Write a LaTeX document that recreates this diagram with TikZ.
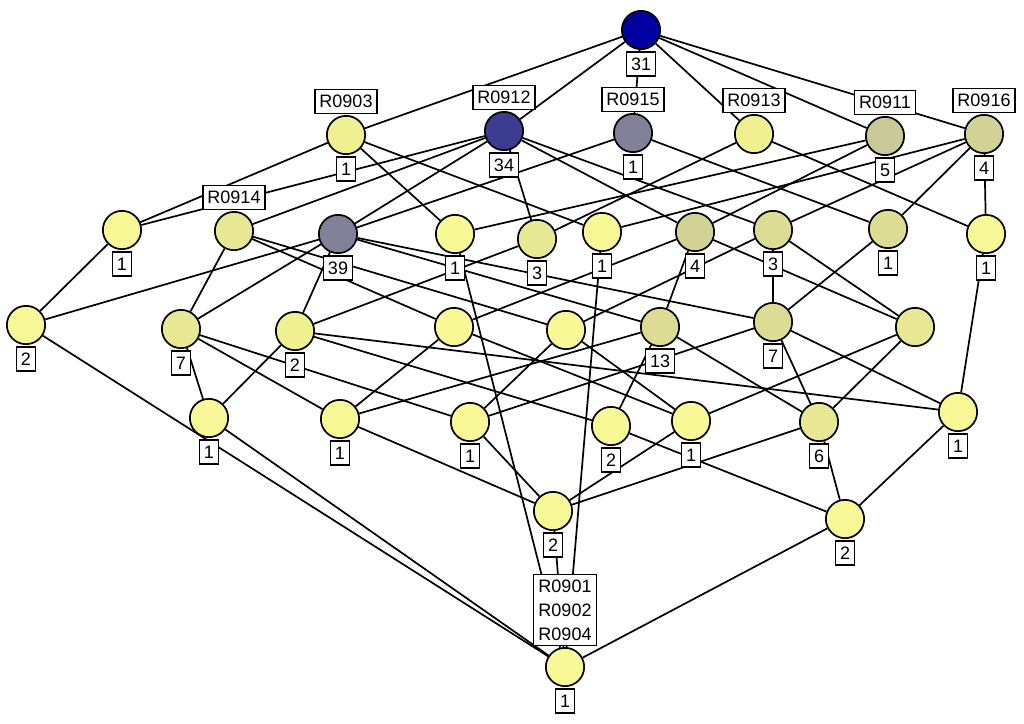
\documentclass[tikz,border=0pt]{standalone}
\usepackage{fontspec}
\setmainfont{Liberation Sans}
\usetikzlibrary{backgrounds}
\definecolor{cT}{RGB}{0,0,158}
\definecolor{cB}{RGB}{60,60,145}
\definecolor{cGr}{RGB}{128,128,152}
\definecolor{cY}{RGB}{248,248,150}
\definecolor{cYa}{RGB}{240,240,145}
\definecolor{cYb}{RGB}{232,232,148}
\definecolor{cKa}{RGB}{220,220,148}
\definecolor{cKb}{RGB}{210,210,150}
\definecolor{cKc}{RGB}{200,200,152}
\begin{document}
\begin{tikzpicture}[x=1pt,y=-1pt,
  cnode/.style={circle,draw=black,line width=1.7pt,minimum size=38.3pt,inner sep=0pt},
  lab/.style={draw=black,fill=white,line width=1.5pt,font=\fontsize{18}{20}\selectfont,
    inner xsep=4.5pt,inner ysep=5.5pt,text height=13pt,text depth=0pt},
  labm/.style={draw=black,fill=white,line width=1.5pt,font=\fontsize{18}{24}\selectfont,
    inner xsep=5pt,inner ysep=5pt,align=center},
  edge/.style={draw=black,line width=1.7pt}]
\useasboundingbox (0,0) rectangle (1024,723);
% top
\node[cnode,fill=cT] (T) at (641,30) {};
% row 1
\node[cnode,fill=cYa] (A) at (346,135) {};
\node[cnode,fill=cB] (B) at (504,131) {};
\node[cnode,fill=cGr] (C) at (633,133) {};
\node[cnode,fill=cYa] (D) at (754,134) {};
\node[cnode,fill=cKc] (E) at (885,136) {};
\node[cnode,fill=cKb] (F) at (984,134) {};
% row 2
\node[cnode,fill=cY] (G) at (122,230) {};
\node[cnode,fill=cYb] (H) at (234,231) {};
\node[cnode,fill=cGr] (I) at (338,234) {};
\node[cnode,fill=cY] (J) at (455,234) {};
\node[cnode,fill=cYb] (K) at (537,239) {};
\node[cnode,fill=cY] (L) at (602,232) {};
\node[cnode,fill=cKb] (M) at (695,232) {};
\node[cnode,fill=cKa] (N) at (773,230) {};
\node[cnode,fill=cKa] (O) at (888,229) {};
\node[cnode,fill=cY] (P) at (986,234) {};
% row 3
\node[cnode,fill=cY] (Q) at (26,325) {};
\node[cnode,fill=cYb] (R) at (181,329) {};
\node[cnode,fill=cYa] (S) at (295,331) {};
\node[cnode,fill=cY] (U) at (454,327) {};
\node[cnode,fill=cY] (V) at (566,330) {};
\node[cnode,fill=cKa] (W) at (660,327) {};
\node[cnode,fill=cKa] (X) at (773,322) {};
\node[cnode,fill=cYb] (Y) at (915,327) {};
% row 4
\node[cnode,fill=cY] (Z1) at (209,418) {};
\node[cnode,fill=cY] (Z2) at (340,419) {};
\node[cnode,fill=cY] (Z3) at (470,422) {};
\node[cnode,fill=cY] (Z4) at (611,426) {};
\node[cnode,fill=cY] (Z5) at (691,421) {};
\node[cnode,fill=cYb] (Z6) at (819,422) {};
\node[cnode,fill=cY] (Z7) at (958,412) {};
% row 5
\node[cnode,fill=cY] (AA) at (553,511) {};
\node[cnode,fill=cY] (BB) at (845,519) {};
\node[cnode,fill=cY] (Bot) at (565,667) {};
% edges
\begin{scope}[on background layer]
\fill[white] (0,0) rectangle (1024,723);
\foreach \u/\v in {T/A,T/B,T/C,T/D,T/E,T/F,
  A/G,A/J,A/L, B/G,B/H,B/I,B/K,B/M,B/N, C/I,C/O, D/K,D/P, E/J,E/M, F/L,F/N,F/O,F/P,
  G/Q, H/R,H/U,H/V, I/Q,I/R,I/S,I/W,I/X, J/Bot, K/S, L/Bot, M/U,M/W,M/Y, N/V,N/X,N/Y, O/X, P/Z7,
  Q/Bot, R/Z1,R/Z2,R/Z3, S/Z1,S/Z4,S/Z7, U/Z2,U/Z5, V/Z3,V/Z5, W/Z2,W/Z4,W/Z6, X/Z3,X/Z6,X/Z7, Y/Z5,Y/Z6,
  Z1/Bot, Z2/AA, Z3/AA, Z4/BB, Z5/AA, Z6/AA, Z6/BB, Z7/BB, AA/Bot, BB/Bot}
  \draw[edge] (\u) -- (\v);
\end{scope}
% attribute labels
\node[lab,anchor=south] (Aa) at ([yshift=1pt]A.north) {R0903};
\node[lab,anchor=south] (Ba) at ([yshift=1pt]B.north) {R0912};
\node[lab,anchor=south] (Ca) at ([yshift=1pt]C.north) {R0915};
\node[lab,anchor=south] (Da) at ([yshift=1pt]D.north) {R0913};
\node[lab,anchor=south] (Ea) at ([yshift=1pt]E.north) {R0911};
\node[lab,anchor=south] (Fa) at ([yshift=1pt]F.north) {R0916};
\node[lab,anchor=south] (Ha) at ([yshift=1pt]H.north) {R0914};
\node[labm,anchor=south] (Bota) at ([yshift=1pt]Bot.north) {R0901\\R0902\\R0904};
% object labels
\foreach \n/\t in {T/31,A/1,B/34,C/1,E/5,F/4,G/1,I/39,J/1,K/3,L/1,M/4,N/3,O/1,P/1,
  Q/2,R/7,S/2,W/13,X/7,Z1/1,Z2/1,Z3/1,Z4/2,Z5/1,Z6/6,Z7/1,AA/2,BB/2,Bot/1}
  \node[lab,anchor=north] (\n o) at ([yshift=-1pt]\n.south) {\t};
\end{tikzpicture}
\end{document}
